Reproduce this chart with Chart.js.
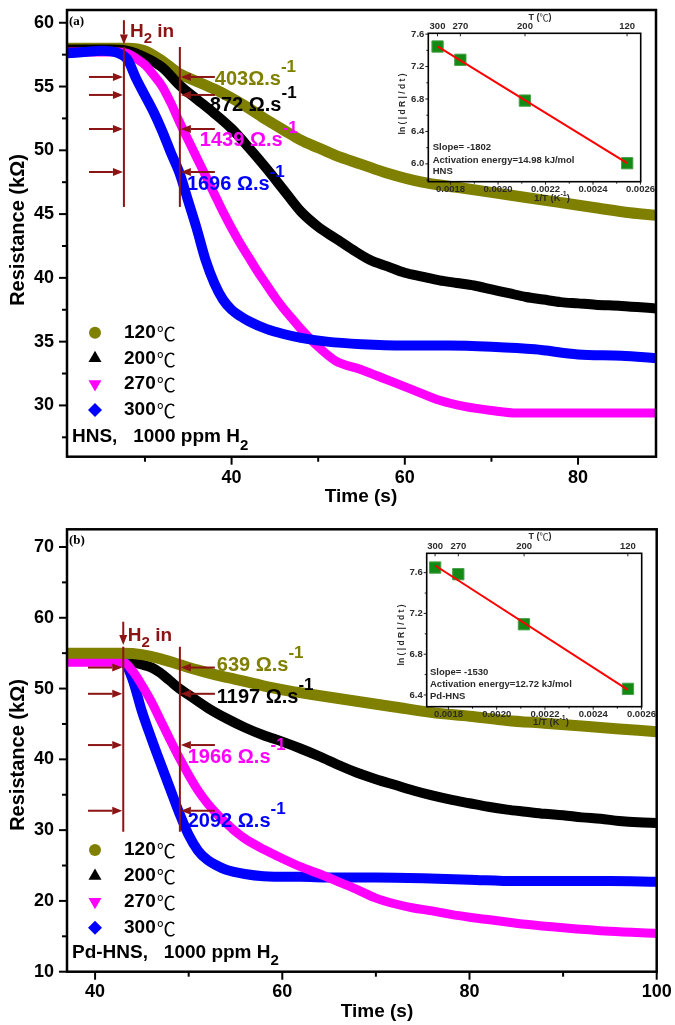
<!DOCTYPE html>
<html><head><meta charset="utf-8">
<script src="https://cdn.jsdelivr.net/npm/chart.js@4.4.1/dist/chart.umd.min.js"></script>
<style>
html,body{margin:0;padding:0;background:#fff;}
#wrap{position:relative;width:675px;height:1025px;overflow:hidden;background:#fff}
canvas{position:absolute;display:block}
</style></head><body>
<div id="wrap">
<canvas id="mainA" width="675" height="525" style="left:0;top:0"></canvas>
<canvas id="mainB" width="675" height="525" style="left:0;top:500px"></canvas>
<canvas id="insetA" width="285" height="210" style="left:390px;top:0"></canvas>
<canvas id="insetB" width="285" height="215" style="left:390px;top:520px"></canvas>
</div>
<script>
// ================= DATA =================
const tempLabels = ['120', '200', '270', '300'];          // legend, °C

// (a) HNS, 1000 ppm H2 : time (s) / resistance (kOhm)
const hnsT120 = [21,24,26,28,30,32,34,36,38,40,42,44,46,48,50,52,55,58,62,66,70,74,78,82,86,89];
const hnsR120 = [58.0,58.0,58.0,58.0,57.8,57.0,56.0,55.4,54.8,54.1,53.3,52.4,51.6,50.8,50.2,49.6,48.9,48.2,47.5,47.1,46.7,46.3,45.9,45.5,45.1,44.9];
const hnsT200 = [21,26,28,30,32,34,36,38,40,42,44,46,48,50,52,54,56,58,60,62,64,66,68,70,72,74,76,78,80,82,85,89];
const hnsR200 = [57.9,57.9,57.8,57.3,56.5,55.1,54.0,52.9,51.7,50.2,48.6,46.9,45.2,44.0,43.1,42.2,41.4,40.9,40.4,40.1,39.8,39.6,39.4,39.1,38.8,38.5,38.3,38.1,38.0,37.9,37.8,37.6];
const hnsT270 = [21,25,27,28,29,30,31,32,33,34,35,36,37,38,39,40,41,42,43,44,45,46,47,48,50,52,55,58,61,64,67,70,73,80,89];
const hnsR270 = [57.7,57.7,57.7,57.6,57.2,56.7,55.9,55.0,53.7,52.2,50.8,49.4,48.0,46.6,45.2,43.9,42.7,41.6,40.5,39.5,38.5,37.6,36.8,36.0,34.6,33.5,32.8,32.0,31.2,30.4,29.9,29.6,29.4,29.4,29.4];
const hnsT300 = [21,23,25,27,28,29,30,31,32,33,34,35,36,37,38,39,40,41,42,44,46,48,51,55,60,65,70,75,80,85,89];
const hnsR300 = [57.6,57.7,57.8,57.6,57.1,55.6,54.3,53.0,51.5,49.8,48.2,46.0,43.8,41.4,39.6,38.3,37.5,37.0,36.6,36.0,35.6,35.3,35.0,34.8,34.7,34.7,34.6,34.4,34.0,33.9,33.7];

// (b) Pd-HNS, 1000 ppm H2
const pdT120 = [37,40,43,45,47,49,51,53,55,57,59,61,63,66,69,72,76,80,84,88,92,96,100];
const pdR120 = [55.0,55.0,55.0,54.8,54.2,53.4,52.6,51.9,51.3,50.7,50.1,49.6,49.2,48.6,48.0,47.4,46.6,46.1,45.5,45.1,44.7,44.3,43.9];
const pdT200 = [37,40,43,44,45,46,47,48,49,50,52,54,56,58,60,62,64,66,68,70,72,74,76,78,80,82,84,86,88,90,92,94,96,98,100];
const pdR200 = [54.0,54.0,53.8,53.7,53.4,53.0,52.2,51.1,50.0,49.1,47.3,45.8,44.5,43.4,42.5,41.5,40.4,39.2,38.1,37.2,36.4,35.6,34.9,34.3,33.8,33.3,32.9,32.6,32.3,32.1,31.8,31.6,31.3,31.1,31.0];
const pdT270 = [37,40,43,44,45,46,47,48,49,50,51,52,53,54,55,56,58,60,62,64,66,68,70,72,74,76,78,80,83,86,90,95,100];
const pdR270 = [53.7,53.7,53.7,52.5,50.5,48.2,45.5,42.8,40.2,37.8,35.6,33.8,32.3,31.0,29.8,28.8,27.3,26.0,24.8,23.8,22.7,21.6,20.4,19.6,19.0,18.6,18.1,17.7,17.2,16.7,16.2,15.7,15.4];
const pdT300 = [37,40,43,44,45,46,47,48,49,50,51,52,53,54,56,58,62,66,70,75,80,85,90,95,100];
const pdR300 = [54.0,54.0,53.8,51.3,46.8,43.0,39.4,35.9,32.4,29.3,27.1,25.8,25.0,24.4,23.8,23.5,23.4,23.3,23.3,23.2,23.0,22.8,22.8,22.8,22.7];

// response rates
const hnsRates = ['403Ω.s', '872 Ω.s', '1439 Ω.s', '1696 Ω.s'];
const pdRates  = ['639 Ω.s', '1197 Ω.s', '1966 Ω.s', '2092 Ω.s'];

// insets: ln(|dR|/dt) vs 1/T
const insetTemps = [300, 270, 200, 120];
const insetTempLabels = ['300', '270', '200', '120'];
const invT = [0.001745, 0.001841, 0.002113, 0.002544];
const hnsLnRate = [7.447, 7.283, 6.780, 6.008];
const hnsFitInvT = [0.001745, 0.002544];
const hnsFitLn = [7.448, 6.009];
const pdLnRate = [7.650, 7.585, 7.094, 6.460];
const pdFitInvT = [0.001745, 0.002544];
const pdFitLn = [7.670, 6.450];
const hnsInsetText = ['Slope= -1802', 'Activation energy=14.98 kJ/mol', 'HNS'];
const pdInsetText = ['Slope= -1530', 'Activation energy=12.72 kJ/mol', 'Pd-HNS'];

// ================= STYLE =================
const FONT = "'Liberation Sans', Arial, Helvetica, sans-serif";
const CJK = "'Noto Sans CJK SC', 'DejaVu Sans', sans-serif";
const SERIF = "'Liberation Serif', 'Times New Roman', serif";
const COLORS = ['#808000', '#000000', '#ff00ff', '#0000ff'];
const WIDTHS = [11, 10, 9, 10];
const MARKERS = [
  {pointStyle: 'circle', radius: 6, rotation: 0},
  {pointStyle: 'triangle', radius: 7.5, rotation: 0},
  {pointStyle: 'triangle', radius: 7.5, rotation: 180},
  {pointStyle: 'rectRot', radius: 7, rotation: 0}
];
const DARKRED = '#8b1414';
Chart.defaults.font.family = FONT;
Chart.defaults.color = '#000';

function isMul(v, m) { const q = v / m; return Math.abs(q - Math.round(q)) < 1e-6; }

function series(ts, rs, idx, order) {
  return {
    data: ts.map((t, i) => ({x: t, y: rs[i]})),
    borderColor: COLORS[idx], backgroundColor: COLORS[idx],
    borderWidth: WIDTHS[idx], pointRadius: 0, cubicInterpolationMode: 'monotone',
    fill: false, clip: 0, order: order, borderCapStyle: 'butt'
  };
}

function rich(ctx, parts, x, y) {
  let cx = x;
  ctx.textAlign = 'left'; ctx.textBaseline = 'middle';
  for (const p of parts) {
    ctx.font = p.f; ctx.fillStyle = p.c;
    ctx.fillText(p.t, cx, y + (p.dy || 0));
    cx += ctx.measureText(p.t).width;
  }
  return cx;
}
function richWidth(ctx, parts) {
  let w = 0; for (const p of parts) { ctx.font = p.f; w += ctx.measureText(p.t).width; } return w;
}

function drawTicks(chart, o) {
  const ctx = chart.ctx, a = chart.chartArea;
  ctx.save(); ctx.strokeStyle = o.color || '#000'; ctx.lineWidth = o.lw; ctx.lineCap = 'butt';
  Object.values(chart.scales).forEach(s => {
    const pos = s.options.position;
    const sign = (o.inward && o.inward[pos]) ? -1 : 1;
    s.ticks.forEach(tk => {
      const major = tk.label !== '' && tk.label != null;
      const len = major ? o.major : o.minor;
      const p = s.getPixelForValue(tk.value);
      ctx.beginPath();
      if (pos === 'bottom') { ctx.moveTo(p, a.bottom); ctx.lineTo(p, a.bottom + sign * len); }
      else if (pos === 'top') { ctx.moveTo(p, a.top); ctx.lineTo(p, a.top - sign * len); }
      else if (pos === 'left') { ctx.moveTo(a.left, p); ctx.lineTo(a.left - sign * len, p); }
      ctx.stroke();
    });
  });
  ctx.restore();
}

function arrowH(ctx, x1, x2, y) {
  const dir = Math.sign(x2 - x1), hl = 10, hw = 4;
  ctx.beginPath(); ctx.moveTo(x1, y); ctx.lineTo(x2 - dir * hl, y); ctx.stroke();
  ctx.beginPath(); ctx.moveTo(x2, y); ctx.lineTo(x2 - dir * hl, y - hw); ctx.lineTo(x2 - dir * hl, y + hw); ctx.closePath(); ctx.fill();
}
function arrowV(ctx, x, y1, y2) {
  const hl = 10, hw = 4;
  ctx.beginPath(); ctx.moveTo(x, y1); ctx.lineTo(x, y2 - hl); ctx.stroke();
  ctx.beginPath(); ctx.moveTo(x, y2); ctx.lineTo(x - hw, y2 - hl); ctx.lineTo(x + hw, y2 - hl); ctx.closePath(); ctx.fill();
}

function mainDecor(d) {
  return {
    id: 'mainDecor',
    afterDraw(chart) {
      const ctx = chart.ctx, a = chart.chartArea, sx = chart.scales.x, sy = chart.scales.y;
      const X = t => sx.getPixelForValue(t), Y = r => sy.getPixelForValue(r);
      drawTicks(chart, {major: 8, minor: 5, lw: 2});
      ctx.save();
      ctx.lineWidth = 2.5; ctx.strokeStyle = '#000';
      ctx.strokeRect(a.left, a.top, a.right - a.left, a.bottom - a.top);
      // panel letter
      ctx.fillStyle = '#000'; ctx.font = 'bold 13px ' + SERIF; ctx.textAlign = 'left'; ctx.textBaseline = 'middle';
      ctx.fillText(d.letter, a.left + 2, a.top + 11.5);
      // H2 in
      ctx.strokeStyle = DARKRED; ctx.fillStyle = DARKRED; ctx.lineWidth = 2;
      arrowV(ctx, X(d.lines[0]), Y(d.h2[0]), Y(d.h2[1]));
      d.lines.forEach(t => { ctx.beginPath(); ctx.moveTo(X(t), Y(d.lineR[0])); ctx.lineTo(X(t), Y(d.lineR[1])); ctx.stroke(); });
      d.arrowR.forEach(r => {
        arrowH(ctx, X(d.leftFrom), X(d.lines[0]) - 1, Y(r));
        arrowH(ctx, X(d.rightFrom), X(d.lines[1]) + 1, Y(r));
      });
      rich(ctx, [
        {t: 'H', f: 'bold 19px ' + FONT, c: DARKRED},
        {t: '2', f: 'bold 15px ' + FONT, c: DARKRED, dy: 7},
        {t: ' in', f: 'bold 19px ' + FONT, c: DARKRED}
      ], X(d.h2Text[0]), Y(d.h2Text[1]));
      // rate labels
      d.rates.forEach((p, i) => {
        rich(ctx, [
          {t: d.rateText[i], f: 'bold 20px ' + FONT, c: COLORS[i]},
          {t: '-1', f: 'bold 17px ' + FONT, c: COLORS[i], dy: -12}
        ], X(p[0]), Y(p[1]));
      });
      // legend
      d.legendDy.forEach((dy, i) => {
        const mx = a.left + 28, my = a.bottom + dy;
        ctx.fillStyle = COLORS[i]; ctx.strokeStyle = COLORS[i];
        Chart.helpers.drawPoint(ctx, Object.assign({borderWidth: 0}, MARKERS[i]), mx, my);
        const ex = rich(ctx, [{t: tempLabels[i], f: 'bold 19px ' + FONT, c: '#000'}], a.left + 57, my);
        rich(ctx, [{t: '℃', f: '19px ' + CJK, c: '#000'}], ex + 1, my + 1);
      });
      rich(ctx, [
        {t: d.note, f: 'bold 19px ' + FONT, c: '#000'},
        {t: '2', f: 'bold 15px ' + FONT, c: '#000', dy: 9}
      ], a.left + 5, a.bottom + d.noteDy);
      // axis titles
      ctx.fillStyle = '#000'; ctx.font = 'bold 20px ' + FONT; ctx.textAlign = 'center'; ctx.textBaseline = 'middle';
      ctx.save(); ctx.translate(18.5, d.yTitleY); ctx.rotate(-Math.PI / 2);
      ctx.fillText('Resistance (kΩ)', 0, 0); ctx.restore();
      ctx.font = 'bold 19px ' + FONT;
      ctx.fillText('Time (s)', d.xTitle[0], d.xTitle[1]);
      ctx.restore();
    }
  };
}

function mainChart(id, sets, ax, area, canvasH, deco) {
  const fixPad = s => { s.paddingTop = 0; s.paddingBottom = 0; s.paddingLeft = 0; s.paddingRight = 0; };
  return new Chart(document.getElementById(id), {
    type: 'line',
    data: {datasets: sets},
    options: {
      responsive: false, animation: false, events: [],
      layout: {padding: {top: area.top, right: 675 - area.right, left: 0, bottom: 0}},
      plugins: {legend: {display: false}, tooltip: {enabled: false}},
      scales: {
        x: {
          type: 'linear', position: 'bottom', min: ax.x[0], max: ax.x[1],
          grid: {display: false, drawTicks: false}, border: {display: false},
          ticks: {stepSize: ax.x[2], includeBounds: false, autoSkip: false, maxRotation: 0, padding: ax.xPad,
            font: {size: 18, weight: 'bold'}, color: '#000',
            callback: v => isMul(v, ax.x[3]) ? String(Math.round(v)) : ''},
          afterFit: s => { s.height = canvasH - area.bottom; fixPad(s); }
        },
        y: {
          type: 'linear', position: 'left', min: ax.y[0], max: ax.y[1],
          grid: {display: false, drawTicks: false}, border: {display: false},
          ticks: {stepSize: ax.y[2], includeBounds: false, autoSkip: false, padding: 13,
            font: {size: 18, weight: 'bold'}, color: '#000',
            callback: v => isMul(v, ax.y[3]) ? String(Math.round(v)) : ''},
          afterFit: s => { s.width = area.left; fixPad(s); }
        }
      }
    },
    plugins: [mainDecor(deco)]
  });
}

// ---- (a)
mainChart('mainA', [
  series(hnsT120, hnsR120, 0, 4), series(hnsT200, hnsR200, 1, 3),
  series(hnsT270, hnsR270, 2, 2), series(hnsT300, hnsR300, 3, 1)
], {x: [21, 89, 10, 20], y: [25.98, 61, 2.5, 5], xPad: 10.5},
  {left: 67, right: 656, top: 10, bottom: 456.7}, 525, {
  letter: '(a)',
  h2: [60.2, 58.3], h2Text: [28.27, 59.3],
  lines: [27.57, 34.03], lineR: [58.1, 45.56],
  arrowR: [55.75, 54.34, 51.67, 48.30], leftFrom: 23.54, rightFrom: 38.07,
  rates: [[38.07, 55.55], [37.49, 53.52], [36.34, 50.77], [34.84, 47.32]], rateText: hnsRates,
  legendDy: [-124, -98.4, -72.7, -46.7], noteDy: -20, note: 'HNS,   1000 ppm H',
  yTitleY: 230, xTitle: [361, 497]
});

// ---- (b)
mainChart('mainB', [
  series(pdT120, pdR120, 0, 1), series(pdT200, pdR200, 1, 4),
  series(pdT270, pdR270, 2, 2), series(pdT300, pdR300, 3, 3)
], {x: [37, 100, 10, 20], y: [10, 72.5, 5, 10], xPad: 9.5},
  {left: 67, right: 656.7, top: 29.3, bottom: 471.7}, 525, {
  letter: '(b)',
  h2: [59.44, 56.15], h2Text: [43.5, 57.4],
  lines: [43.01, 49.06], lineR: [55.91, 29.77],
  arrowR: [52.97, 49.26, 42.02, 32.74], leftFrom: 39.24, rightFrom: 52.8,
  rates: [[53.0, 53.23], [53.0, 48.8], [49.9, 40.25], [49.9, 31.28]], rateText: pdRates,
  legendDy: [-121.7, -95.7, -70, -44], noteDy: -19.4, note: 'Pd-HNS,   1000 ppm H',
  yTitleY: 255, xTitle: [377, 512]
});

// ================= INSETS =================
function insetDecor(d) {
  return {
    id: 'insetDecor',
    afterDraw(chart) {
      const ctx = chart.ctx, a = chart.chartArea;
      drawTicks(chart, {major: 3, minor: 2, lw: 1, color: '#222', inward: {top: true}});
      ctx.save();
      ctx.strokeStyle = '#000'; ctx.lineWidth = 1.6;
      ctx.strokeRect(a.left, a.top, a.right - a.left, a.bottom - a.top);
      const C = '#2a2a2a';
      const tParts = [
        {t: 'T (', f: 'bold 9px ' + FONT, c: C},
        {t: '℃', f: '9px ' + CJK, c: C},
        {t: ')', f: 'bold 9px ' + FONT, c: C}
      ];
      rich(ctx, tParts, d.tTitle[0] - richWidth(ctx, tParts) / 2, d.tTitle[1]);
      const bParts = [
        {t: '1/T (K', f: 'bold 9.5px ' + FONT, c: C},
        {t: '-1', f: 'bold 7px ' + FONT, c: C, dy: -4},
        {t: ')', f: 'bold 9.5px ' + FONT, c: C}
      ];
      rich(ctx, bParts, d.bTitle[0] - richWidth(ctx, bParts) / 2, d.bTitle[1]);
      ctx.save(); ctx.translate(d.yTitle[0], d.yTitle[1]); ctx.rotate(-Math.PI / 2);
      ctx.font = 'bold 8.5px ' + FONT; ctx.fillStyle = C; ctx.textAlign = 'center'; ctx.textBaseline = 'middle';
      ctx.fillText('ln ( | d R | / d t )', 0, 0); ctx.restore();
      ctx.font = 'bold 9.5px ' + FONT; ctx.fillStyle = C; ctx.textAlign = 'left'; ctx.textBaseline = 'middle';
      d.lines.forEach((s, i) => ctx.fillText(s, d.textX, d.textY[i]));
      ctx.restore();
    }
  };
}

function insetChart(id, pts, fitX, fitY, ax, area, cw, ch, deco) {
  const fixPad = s => { s.paddingTop = 0; s.paddingBottom = 0; s.paddingLeft = 0; s.paddingRight = 0; };
  const tickFont = {size: 9.5, weight: 'bold'};
  return new Chart(document.getElementById(id), {
    type: 'scatter',
    data: {datasets: [
      {type: 'line', data: fitX.map((v, i) => ({x: v, y: fitY[i]})), borderColor: '#ff0000', borderWidth: 2,
        pointRadius: 0, fill: false, order: 0, clip: false},
      {data: invT.map((v, i) => ({x: v, y: pts[i]})), pointStyle: 'rect', pointRadius: 8,
        backgroundColor: '#138a13', borderColor: '#4aa04a', borderWidth: 1, order: 1, clip: false}
    ]},
    options: {
      responsive: false, animation: false, events: [],
      layout: {padding: {top: 0, right: cw - area.right, left: 0, bottom: 0}},
      plugins: {legend: {display: false}, tooltip: {enabled: false}},
      scales: {
        x: {
          type: 'linear', position: 'bottom', min: ax.x[0], max: ax.x[1],
          grid: {display: false, drawTicks: false}, border: {display: false},
          ticks: {stepSize: 0.0001, includeBounds: false, autoSkip: false, maxRotation: 0, padding: 2,
            font: tickFont, color: '#2a2a2a',
            callback: v => isMul(v, 0.0002) ? v.toFixed(4) : ''},
          afterFit: s => { s.height = ch - area.bottom; fixPad(s); }
        },
        x2: {
          type: 'linear', axis: 'x', position: 'top', min: ax.x[0], max: ax.x[1],
          grid: {display: false, drawTicks: false}, border: {display: false},
          afterBuildTicks: s => { s.ticks = insetTemps.map(T => ({value: 1 / (T + 273.15)})); },
          ticks: {autoSkip: false, maxRotation: 0, padding: 1, font: tickFont, color: '#2a2a2a',
            callback: (v, i) => insetTempLabels[i]},
          afterFit: s => { s.height = area.top; fixPad(s); }
        },
        y: {
          type: 'linear', position: 'left', min: ax.y[0], max: ax.y[1],
          grid: {display: false, drawTicks: false}, border: {display: false},
          ticks: {stepSize: 0.2, includeBounds: false, autoSkip: false, padding: 4,
            font: tickFont, color: '#2a2a2a',
            callback: v => isMul(v, 0.4) ? v.toFixed(1) : ''},
          afterFit: s => { s.width = area.left; fixPad(s); }
        }
      }
    },
    plugins: [insetDecor(deco)]
  });
}

insetChart('insetA', hnsLnRate, hnsFitInvT, hnsFitLn,
  {x: [0.001706, 0.002601], y: [5.78, 7.61]},
  {left: 38.3, right: 250.7, top: 33.3, bottom: 181.7}, 285, 210, {
  tTitle: [150, 18], bTitle: [162, 198], yTitle: [13, 104],
  lines: hnsInsetText, textX: 42.7, textY: [147.7, 160, 171.7]
});
insetChart('insetB', pdLnRate, pdFitInvT, pdFitLn,
  {x: [0.00171, 0.002601], y: [6.285, 7.79]},
  {left: 36.7, right: 251.7, top: 33.3, bottom: 186.7}, 285, 215, {
  tTitle: [150, 16.7], bTitle: [161, 202], yTitle: [11.7, 115],
  lines: pdInsetText, textX: 40, textY: [152.7, 164.3, 176]
});
</script>
</body></html>
